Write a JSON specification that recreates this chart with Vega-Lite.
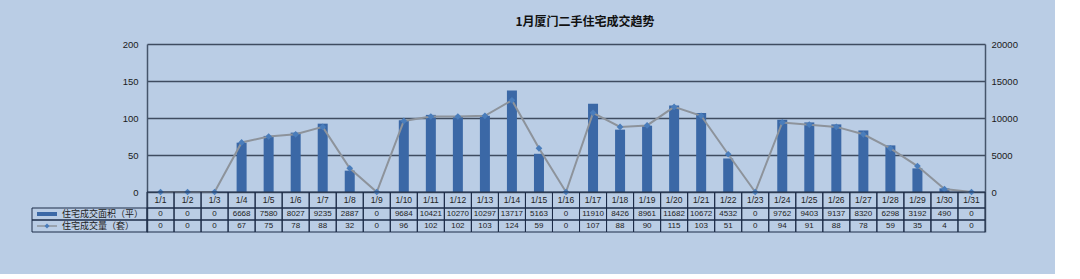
{
  "$schema": "https://vega.github.io/schema/vega-lite/v6.json",
  "width": 838,
  "height": 188,
  "autosize": {"type": "none"},
  "padding": {"left": 147, "top": 44, "right": 70, "bottom": 42},
  "background": "#bacde5",
  "title": {
    "text": "1月厦门二手住宅成交趋势",
    "font": "Noto Sans CJK SC",
    "fontSize": 12,
    "fontWeight": "bold",
    "color": "#111111",
    "anchor": "middle",
    "dx": 19,
    "offset": 10
  },
  "config": {
    "view": {"stroke": null},
    "axis": {
      "labelFont": "Liberation Sans",
      "labelFontSize": 9.5,
      "labelColor": "#1a1a1a",
      "ticks": false,
      "domainColor": "#45556b",
      "domainWidth": 1.5,
      "gridColor": "#3f4c60",
      "gridWidth": 1.5,
      "title": null
    }
  },
  "data": {
    "values": [
      {"d": "1/1", "area": 0, "count": 0},
      {"d": "1/2", "area": 0, "count": 0},
      {"d": "1/3", "area": 0, "count": 0},
      {"d": "1/4", "area": 6668, "count": 67},
      {"d": "1/5", "area": 7580, "count": 75},
      {"d": "1/6", "area": 8027, "count": 78},
      {"d": "1/7", "area": 9235, "count": 88},
      {"d": "1/8", "area": 2887, "count": 32},
      {"d": "1/9", "area": 0, "count": 0},
      {"d": "1/10", "area": 9684, "count": 96},
      {"d": "1/11", "area": 10421, "count": 102},
      {"d": "1/12", "area": 10270, "count": 102},
      {"d": "1/13", "area": 10297, "count": 103},
      {"d": "1/14", "area": 13717, "count": 124},
      {"d": "1/15", "area": 5163, "count": 59},
      {"d": "1/16", "area": 0, "count": 0},
      {"d": "1/17", "area": 11910, "count": 107},
      {"d": "1/18", "area": 8426, "count": 88},
      {"d": "1/19", "area": 8961, "count": 90},
      {"d": "1/20", "area": 11682, "count": 115},
      {"d": "1/21", "area": 10672, "count": 103},
      {"d": "1/22", "area": 4532, "count": 51},
      {"d": "1/23", "area": 0, "count": 0},
      {"d": "1/24", "area": 9762, "count": 94},
      {"d": "1/25", "area": 9403, "count": 91},
      {"d": "1/26", "area": 9137, "count": 88},
      {"d": "1/27", "area": 8320, "count": 78},
      {"d": "1/28", "area": 6298, "count": 59},
      {"d": "1/29", "area": 3192, "count": 35},
      {"d": "1/30", "area": 490, "count": 4},
      {"d": "1/31", "area": 0, "count": 0}
    ]
  },
  "layer": [
    {
      "mark": {"type": "bar", "width": {"band": 0.37}, "color": "#3b68a6"},
      "encoding": {
        "x": {"field": "d", "type": "nominal", "sort": null, "axis": null, "scale": {"paddingInner": 0, "paddingOuter": 0}},
        "y": {
          "field": "area", "type": "quantitative",
          "scale": {"domain": [-5405.4, 20000], "nice": false, "zero": false},
          "axis": {"orient": "right", "values": [0, 5000, 10000, 15000, 20000], "format": "d", "grid": false, "labelPadding": 6}
        },
        "y2": {"datum": 0}
      }
    },
    {
      "encoding": {
        "x": {"field": "d", "type": "nominal", "sort": null, "axis": null, "scale": {"paddingInner": 0, "paddingOuter": 0}},
        "y": {
          "field": "count", "type": "quantitative",
          "scale": {"domain": [-54.054, 200], "nice": false, "zero": false},
          "axis": {"orient": "left", "values": [0, 50, 100, 150, 200], "format": "d", "grid": true, "labelPadding": 9}
        }
      },
      "layer": [
        {"mark": {"type": "line", "color": "#8d939b", "strokeWidth": 2}},
        {"mark": {"type": "point", "shape": "diamond", "filled": true, "color": "#4a7dbb", "size": 45, "opacity": 1}}
      ]
    },
    {
      "encoding": {
        "x": {"field": "d", "type": "nominal", "sort": null, "axis": null, "scale": {"paddingInner": 0, "paddingOuter": 0}},
        "y": {"datum": "date", "type": "nominal", "scale": {"domain": ["date"], "range": [148, 164]}, "axis": null}
      },
      "layer": [
        {"mark": {"type": "rect", "fill": "transparent", "stroke": "#1d2c48", "strokeWidth": 1}},
        {"mark": {"type": "text", "font": "Liberation Sans", "fontSize": 8.5, "color": "#222222"}, "encoding": {"text": {"field": "d"}}}
      ]
    },
    {
      "transform": [{"fold": ["area", "count"], "as": ["metric", "value"]}],
      "encoding": {
        "x": {"field": "d", "type": "nominal", "sort": null, "axis": null, "scale": {"paddingInner": 0, "paddingOuter": 0}},
        "y": {"field": "metric", "type": "nominal", "scale": {"domain": ["area", "count"], "range": [164, 188]}, "axis": null}
      },
      "layer": [
        {"mark": {"type": "rect", "fill": "transparent", "stroke": "#1d2c48", "strokeWidth": 1}},
        {"mark": {"type": "text", "font": "Liberation Sans", "fontSize": 8, "color": "#222222"}, "encoding": {"text": {"field": "value", "type": "quantitative", "format": "d"}}}
      ]
    },
    {
      "data": {"values": [{"row": "area", "label": "住宅成交面积（平）"}, {"row": "count", "label": "住宅成交量（套）"}]},
      "mark": {"type": "rect", "fill": "transparent", "stroke": "#1d2c48", "strokeWidth": 1},
      "encoding": {
        "x": {"datum": "h", "type": "nominal", "scale": {"domain": ["h"], "range": [-115, 0]}, "axis": null},
        "y": {"field": "row", "type": "nominal", "scale": {"domain": ["area", "count"], "range": [164, 188]}, "axis": null}
      }
    },
    {
      "data": {"values": [{"row": "area", "label": "住宅成交面积（平）"}, {"row": "count", "label": "住宅成交量（套）"}]},
      "mark": {"type": "text", "align": "left", "font": "Noto Sans CJK SC", "fontSize": 9, "color": "#222222"},
      "encoding": {
        "x": {"datum": "t", "type": "nominal", "scale": {"domain": ["t"], "range": [-170, 0]}, "axis": null},
        "y": {"field": "row", "type": "nominal", "scale": {"domain": ["area", "count"], "range": [164, 188]}, "axis": null},
        "text": {"field": "label"}
      }
    },
    {
      "data": {"values": [{"row": "area", "label": "住宅成交面积（平）"}, {"row": "count", "label": "住宅成交量（套）"}]},
      "encoding": {
        "x": {"datum": "s", "type": "nominal", "scale": {"domain": ["s"], "range": [-115, -85]}, "axis": null},
        "y": {"field": "row", "type": "nominal", "scale": {"domain": ["area", "count"], "range": [164, 188]}, "axis": null}
      },
      "layer": [
        {
          "transform": [{"filter": "datum.row == 'area'"}],
          "mark": {"type": "point", "shape": "M-1,-0.2H1V0.2H-1Z", "filled": true, "color": "#3b68a6", "size": 400, "opacity": 1}
        },
        {
          "transform": [{"filter": "datum.row == 'count'"}],
          "mark": {"type": "point", "shape": "M-1,0H1", "filled": false, "color": "#8d939b", "strokeWidth": 1.5, "size": 400, "opacity": 1}
        },
        {
          "transform": [{"filter": "datum.row == 'count'"}],
          "mark": {"type": "point", "shape": "diamond", "filled": true, "color": "#4a7dbb", "size": 25, "opacity": 1}
        }
      ]
    }
  ],
  "resolve": {"scale": {"x": "independent", "y": "independent"}}
}
